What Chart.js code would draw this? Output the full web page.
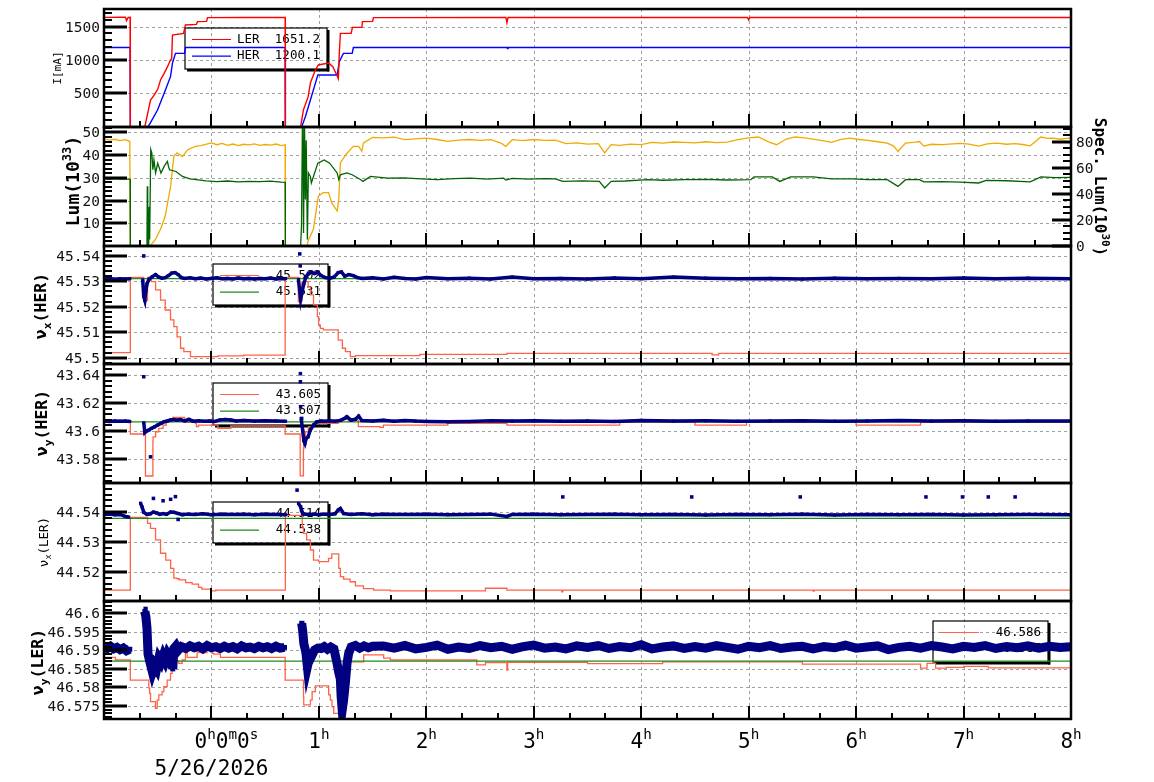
<!DOCTYPE html>
<html>
<head>
<meta charset="utf-8">
<title>Beam currents, luminosity and tunes</title>
<script src="https://cdn.jsdelivr.net/npm/chart.js@4.4.1/dist/chart.umd.min.js"></script>
<style>
  html, body { margin: 0; padding: 0; background: #fff; }
  #wrap { position: relative; width: 1154px; height: 782px; overflow: hidden; }
  #wrap canvas { position: absolute; left: 0; top: 0; }
</style>
</head>
<body>
<div id="wrap"></div>
<script>
// time axis: hours from 5/26/2026 0:00
const hourTicks = [0, 1, 2, 3, 4, 5, 6, 7, 8];
const hourLabels = ['0h0m0s', '1h', '2h', '3h', '4h', '5h', '6h', '7h', '8h'];
const dateLabel = '5/26/2026';

// ---- beam currents [mA]
const curTicks = [500, 1000, 1500];
const curNames = ['LER', 'HER'];
const curLegendVals = ['1651.2', '1200.1'];
const lerT = [-1.0, -0.80, -0.79, -0.775, -0.757, -0.755, -0.62, -0.60, -0.567, -0.53,
  -0.50, -0.474, -0.44, -0.409, -0.381, -0.37, -0.363, -0.26, -0.242, -0.14,
  -0.13, -0.045, -0.037, 0.30, 0.686, 0.688, 0.83, 0.856, 0.90, 0.921,
  0.967, 0.995, 1.09, 1.13, 1.17, 1.181, 1.19, 1.20, 1.30, 1.312,
  1.40, 1.405, 1.50, 1.507, 2.74, 2.75, 2.76, 4.99, 5.0, 5.01, 8.0];
const lerI = [1640, 1642, 1590, 1638, 1640, 0, 0, 150, 400, 480,
  560, 700, 800, 900, 1000, 1020, 1375, 1400, 1525, 1535,
  1575, 1580, 1636, 1638, 1638, 0, 0, 250, 450, 655,
  850, 925, 955, 900, 760, 720, 1100, 1400, 1400, 1490,
  1490, 1575, 1580, 1636, 1638, 1560, 1638, 1638, 1600, 1638, 1638];
const herT = [-1.0, -0.757, -0.755, -0.59, -0.567, -0.502, -0.44, -0.381, -0.363, -0.335,
  -0.25, -0.242, 0.686, 0.688, 0.84, 0.874, 0.921, 0.967, 0.99, 1.17,
  1.19, 1.228, 1.31, 1.321, 2.75, 2.755, 2.76, 8.0];
const herI = [1187, 1187, 0, 0, 60, 250, 500, 750, 950, 1100,
  1100, 1187, 1187, 0, 0, 150, 400, 650, 775, 775,
  975, 1100, 1100, 1187, 1187, 1170, 1187, 1187];

// ---- luminosity [1e33] and specific luminosity [1e30]
const lumTicks = [10, 20, 30, 40, 50];
const specTicks = [0, 20, 40, 60, 80];
const lumT = [-1.0, -0.95, -0.9, -0.85, -0.8, -0.76, -0.755, -0.57, -0.52, -0.474,
  -0.43, -0.38, -0.35, -0.32, -0.27, -0.22, -0.15, -0.10, 0.0, 0.05,
  0.1, 0.15, 0.2, 0.25, 0.3, 0.35, 0.4, 0.45, 0.5, 0.55,
  0.6, 0.65, 0.686, 0.688, 0.89, 0.90, 0.949, 0.995, 1.04, 1.09,
  1.12, 1.17, 1.185, 1.20, 1.25, 1.32, 1.37, 1.40, 1.415, 1.50,
  1.6, 1.7, 1.8, 1.9, 2.0, 2.1, 2.2, 2.3, 2.4, 2.5,
  2.6, 2.7, 2.74, 2.8, 2.9, 3.0, 3.1, 3.2, 3.3, 3.4,
  3.5, 3.6, 3.66, 3.72, 3.8, 3.9, 4.0, 4.1, 4.2, 4.3,
  4.4, 4.5, 4.6, 4.7, 4.8, 4.9, 5.0, 5.09, 5.18, 5.26,
  5.35, 5.43, 5.52, 5.6, 5.7, 5.77, 5.85, 5.94, 6.03, 6.11,
  6.2, 6.29, 6.35, 6.39, 6.43, 6.46, 6.55, 6.59, 6.63, 6.7,
  6.8, 6.9, 6.97, 7.05, 7.14, 7.22, 7.31, 7.4, 7.48, 7.55,
  7.62, 7.67, 7.72, 7.78, 7.83, 7.9, 7.98, 8.0];
const lumV = [47.2, 46.6, 47.0, 46.4, 46.8, 46.0, 0, 0, 3.0, 7.4,
  13.2, 26.3, 39.5, 41.0, 39.4, 42.4, 43.9, 44.2, 45.4, 44.6,
  45.2, 44.3, 44.9, 44.2, 44.8, 44.5, 45.0, 44.3, 44.7, 44.4,
  44.9, 44.2, 44.6, 0, 0, 2.3, 7.4, 22.0, 23.5, 23.5,
  19.0, 15.4, 20.5, 36.6, 40.2, 43.9, 43.9, 41.7, 45.4, 47.8,
  47.6, 47.9, 46.8, 47.2, 47.5, 46.9, 46.1, 46.6, 46.9, 46.5,
  46.8, 45.2, 43.9, 46.8, 46.4, 46.9, 46.5, 46.6, 45.1, 45.4,
  44.9, 45.1, 41.0, 44.6, 44.3, 44.9, 44.6, 45.6, 45.3, 45.8,
  45.6, 45.4, 45.9, 45.5, 45.7, 46.8, 47.6, 48.0, 46.0, 44.6,
  47.1, 48.0, 47.6, 47.1, 46.3, 45.6, 46.8, 47.5, 46.9, 46.5,
  45.9, 45.3, 44.0, 41.6, 43.8, 45.3, 45.7, 46.0, 44.0, 44.8,
  44.6, 45.0, 45.2, 44.9, 44.0, 45.0, 45.3, 44.8, 45.1, 44.7,
  44.1, 46.0, 48.0, 47.4, 47.5, 47.0, 47.5, 47.3];
const specT = [-1.0, -0.95, -0.9, -0.85, -0.8, -0.757, -0.755, -0.60, -0.597, -0.593,
  -0.588, -0.584, -0.58, -0.575, -0.565, -0.555, -0.545, -0.535, -0.52, -0.50,
  -0.47, -0.44, -0.41, -0.40, -0.39, -0.33, -0.27, -0.20, -0.14, -0.05,
  0.05, 0.15, 0.25, 0.35, 0.45, 0.55, 0.65, 0.686, 0.688, 0.83,
  0.838, 0.847, 0.852, 0.857, 0.866, 0.874, 0.882, 0.893, 0.902, 0.921,
  0.93, 0.96, 0.99, 1.05, 1.10, 1.17, 1.185, 1.20, 1.26, 1.31,
  1.39, 1.41, 1.48, 1.64, 1.79, 1.95, 2.10, 2.26, 2.41, 2.57,
  2.72, 2.74, 2.8, 2.95, 3.1, 3.2, 3.27, 3.45, 3.61, 3.66,
  3.72, 3.85, 4.06, 4.2, 4.4, 4.6, 4.8, 5.02, 5.05, 5.22,
  5.29, 5.39, 5.6, 5.77, 5.96, 6.11, 6.29, 6.39, 6.46, 6.59,
  6.63, 6.8, 6.97, 7.14, 7.21, 7.4, 7.62, 7.72, 7.85, 8.0];
const specV = [51.4, 51.0, 51.6, 51.2, 51.5, 51.0, 0, 0, 45.7, 0,
  22.9, 0, 30, 5, 74, 71.4, 58.4, 66, 56, 63.5,
  56, 61, 64.8, 61, 58.4, 57.1, 53.3, 51.5, 50.8, 49.9,
  49.4, 49.8, 49.2, 49.6, 49.3, 49.7, 48.9, 48.8, 0, 0,
  15, 95, 84, 10, 95, 35.6, 81, 5, 56, 53.3,
  48.3, 56, 63.5, 66, 63.5, 56, 50.8, 54.6, 56, 54.6,
  50.8, 49.5, 53.3, 52.0, 52.2, 51.4, 50.8, 51.6, 52.0, 51.2,
  52.0, 50.5, 51.8, 51.2, 51.6, 51.4, 49.5, 49.9, 49.5, 44.5,
  49.5, 49.8, 50.8, 50.4, 50.8, 51.1, 50.6, 50.8, 52.9, 52.9,
  49.5, 52.9, 52.9, 51.4, 51.4, 50.8, 50.8, 45.7, 50.8, 50.8,
  49.1, 49.4, 48.9, 48.3, 50.3, 50.0, 49.1, 52.9, 52.4, 52.6];

// ---- HER horizontal tune
const nuxHerTicks = [45.5, 45.51, 45.52, 45.53, 45.54];
const nuxHerLegendVals = ['45.502', '45.531'];
const nuxHerSetT = [-1.0, -0.755, -0.753, -0.63, -0.628, -0.595, -0.593, -0.56, -0.52, -0.474,
  -0.43, -0.381, -0.35, -0.32, -0.288, -0.257, -0.195, -0.133, 0.06, 0.07,
  0.30, 0.31, 0.686, 0.688, 0.809, 0.81, 0.84, 0.845, 0.86, 0.90,
  0.92, 0.95, 0.986, 0.998, 1.014, 1.042, 1.088, 1.18, 1.219, 1.247,
  1.293, 1.34, 1.55, 1.94, 1.95, 2.75, 2.76, 4.66, 4.67, 4.72, 4.73, 8.0];
const nuxHerSetV = [45.502, 45.502, 45.5315, 45.5315, 45.5224, 45.5224, 45.5315, 45.5315, 45.5298, 45.5266,
  45.5226, 45.5187, 45.5148, 45.5122, 45.5082, 45.5037, 45.5024, 45.5004, 45.5004, 45.5007,
  45.5007, 45.501, 45.501, 45.5315, 45.5315, 45.522, 45.522, 45.5292, 45.5298, 45.5298,
  45.5278, 45.5246, 45.5207, 45.5161, 45.5128, 45.5115, 45.5109, 45.5109, 45.5069, 45.5037,
  45.5024, 45.5004, 45.5008, 45.5008, 45.5013, 45.5013, 45.5017, 45.5017, 45.5011, 45.5011, 45.5017, 45.5017];
const nuxHerRefT = [-1.0, 8.0];
const nuxHerRefV = [45.531, 45.531];
const nuxHerMeasT = [-1.0, -0.95, -0.9, -0.85, -0.8, -0.76, -0.7,
  -0.64, -0.63, -0.62, -0.61, -0.60, -0.58, -0.55, -0.52, -0.49, -0.46,
  -0.43, -0.40, -0.37, -0.34, -0.31, -0.28, -0.25, -0.2, -0.15, -0.1,
  -0.05, 0.0, 0.05, 0.1, 0.15, 0.2, 0.25, 0.3, 0.35, 0.4,
  0.45, 0.5, 0.55, 0.6, 0.65, 0.69, 0.75,
  0.81, 0.83, 0.845, 0.86, 0.88, 0.90, 0.93, 0.96, 0.99, 1.02,
  1.06, 1.1, 1.14, 1.18, 1.21, 1.24, 1.28, 1.32, 1.36, 1.4,
  1.5, 1.6, 1.7, 1.8, 1.9, 2.0, 2.2, 2.4, 2.6, 2.8,
  3.0, 3.25, 3.5, 3.75, 4.0, 4.3, 4.6, 4.9, 5.2, 5.5,
  5.8, 6.1, 6.4, 6.7, 7.0, 7.3, 7.6, 8.0];
const nuxHerMeasV = [45.5309, 45.5311, 45.5308, 45.5310, 45.5309, 45.5310, null,
  45.5305, 45.5240, 45.5225, 45.5262, 45.5290, 45.5308, 45.5318, 45.5326, 45.5316, 45.5312,
  45.5314, 45.5322, 45.5332, 45.5334, 45.5326, 45.5314, 45.5311, 45.5313, 45.5310, 45.5312,
  45.5309, 45.5311, 45.5313, 45.5310, 45.5311, 45.5309, 45.5312, 45.5310, 45.5311, 45.5309,
  45.5311, 45.5310, 45.5312, 45.5309, 45.5311, 45.5310, null,
  45.5306, 45.5228, 45.5262, 45.5290, 45.5318, 45.5328, 45.5336, 45.5330, 45.5335, 45.5322,
  45.5314, 45.5312, 45.5316, 45.5334, 45.5336, 45.5320, 45.5326, 45.5322, 45.5314, 45.5311,
  45.5313, 45.5309, 45.5315, 45.5311, 45.5309, 45.5314, 45.5310, 45.5312, 45.5309, 45.5316,
  45.5310, 45.5311, 45.5309, 45.5313, 45.5310, 45.5316, 45.5312, 45.5310, 45.5311, 45.5309,
  45.5312, 45.5310, 45.5311, 45.5310, 45.5313, 45.5310, 45.5312, 45.5310];
const nuxHerOutT = [-0.63, 0.822, 0.826];
const nuxHerOutV = [45.5399, 45.5407, 45.536];

// ---- HER vertical tune
const nuyHerTicks = [43.58, 43.6, 43.62, 43.64];
const nuyHerLegendVals = ['43.605', '43.607'];
const nuyHerSetT = [-1.0, -0.755, -0.753, -0.614, -0.612, -0.545, -0.543, -0.52, -0.49, -0.45,
  -0.42, -0.36, -0.31, -0.25, -0.24, -0.21, -0.15, -0.14, -0.12, -0.07,
  0.06, 0.08, 0.18, 0.20, 0.686, 0.688, 0.826, 0.828, 0.856, 0.858,
  0.874, 0.902, 0.94, 0.967, 0.995, 1.18, 1.22, 1.247, 1.274, 1.29,
  1.34, 1.367, 1.386, 1.57, 1.6, 2.2, 2.75, 3.2, 3.8, 3.82,
  4.5, 4.52, 4.98, 5.0, 6.0, 6.02, 6.6, 6.62, 8.0];
const nuyHerSetV = [43.6064, 43.6064, 43.5979, 43.5979, 43.5679, 43.5679, 43.5924, 43.5959, 43.5995, 43.6019,
  43.6043, 43.6067, 43.6098, 43.6098, 43.6079, 43.6062, 43.6062, 43.6055, 43.6031, 43.6043,
  43.6043, 43.6019, 43.6019, 43.6036, 43.6036, 43.5979, 43.5979, 43.568, 43.568, 43.5864,
  43.5936, 43.5995, 43.6031, 43.605, 43.6055, 43.6055, 43.6067, 43.609, 43.6085, 43.6072,
  43.6079, 43.6076, 43.6031, 43.6031, 43.6026, 43.6043, 43.6055, 43.6043, 43.6043, 43.6062,
  43.6062, 43.6043, 43.6043, 43.6062, 43.6062, 43.6043, 43.6043, 43.6062, 43.6062];
const nuyHerRefT = [-1.0, 8.0];
const nuyHerRefV = [43.6066, 43.6066];
const nuyHerMeasT = [-1.0, -0.95, -0.9, -0.85, -0.8, -0.76, -0.7,
  -0.63, -0.62, -0.61, -0.60, -0.58, -0.56, -0.53, -0.50, -0.47, -0.44,
  -0.41, -0.38, -0.35, -0.32, -0.29, -0.25, -0.21, -0.17, -0.12, -0.07,
  -0.02, 0.03, 0.08, 0.13, 0.18, 0.23, 0.3, 0.4, 0.5, 0.6,
  0.69, 0.76,
  0.835, 0.85, 0.86, 0.87, 0.88, 0.90, 0.92, 0.95, 0.98, 1.02,
  1.06, 1.1, 1.15, 1.2, 1.24, 1.26, 1.3, 1.34, 1.37, 1.4,
  1.5, 1.6, 1.7, 1.8, 1.9, 2.0, 2.2, 2.4, 2.6, 2.8,
  3.0, 3.25, 3.5, 3.75, 4.0, 4.3, 4.6, 4.9, 5.2, 5.5,
  5.8, 6.1, 6.4, 6.7, 7.0, 7.3, 7.6, 8.0];
const nuyHerMeasV = [43.6071, 43.6069, 43.6072, 43.6070, 43.6071, 43.6069, null,
  43.6060, 43.5990, 43.5998, 43.6002, 43.6008, 43.6019, 43.6030, 43.6043, 43.6055, 43.6067,
  43.6072, 43.6080, 43.6083, 43.6078, 43.6082, 43.6073, 43.6084, 43.6071, 43.6074, 43.6070,
  43.6072, 43.6069, 43.6080, 43.6083, 43.6079, 43.6072, 43.6076, 43.6071, 43.6074, 43.6072,
  43.6070, null,
  43.6090, 43.6000, 43.5930, 43.5912, 43.5945, 43.5959, 43.6007, 43.6043, 43.6066, 43.6072,
  43.6070, 43.6074, 43.6071, 43.6076, 43.6090, 43.6102, 43.6078, 43.6084, 43.6107, 43.6075,
  43.6072, 43.6077, 43.6070, 43.6075, 43.6071, 43.6069, 43.6066, 43.6068, 43.6073, 43.6071,
  43.6074, 43.6070, 43.6072, 43.6069, 43.6076, 43.6071, 43.6073, 43.6070, 43.6072, 43.6074,
  43.6070, 43.6072, 43.6075, 43.6071, 43.6073, 43.6070, 43.6072, 43.6071];
const nuyHerOutT = [-0.63, -0.567, 0.828, 0.828, 0.83, 0.84];
const nuyHerOutV = [43.6388, 43.5816, 43.641, 43.6352, 43.6174, 43.609];

// ---- LER horizontal tune
const nuxLerTicks = [44.52, 44.53, 44.54];
const nuxLerLegendVals = ['44.514', '44.538'];
const nuxLerSetT = [-1.0, -0.755, -0.753, -0.595, -0.567, -0.52, -0.474, -0.425, -0.38, -0.35,
  -0.32, -0.30, -0.24, -0.18, -0.12, -0.09, 0.0, 0.04, 0.09, 0.688,
  0.69, 0.845, 0.856, 0.886, 0.921, 0.95, 0.998, 1.09, 1.12, 1.15,
  1.185, 1.2, 1.23, 1.29, 1.34, 1.415, 1.51, 1.665, 2.0, 2.55,
  2.75, 2.88, 3.26, 3.27, 3.3, 5.6, 5.61, 5.65, 8.0];
const nuxLerSetV = [44.5138, 44.5138, 44.5383, 44.5383, 44.5363, 44.5346, 44.5307, 44.5262, 44.5239, 44.5211,
  44.5178, 44.5176, 44.5172, 44.5163, 44.5158, 44.5147, 44.5141, 44.5135, 44.5138, 44.5138,
  44.539, 44.539, 44.5351, 44.5329, 44.5307, 44.5273, 44.5239, 44.5234, 44.5245, 44.526,
  44.526, 44.5211, 44.5183, 44.5175, 44.5166, 44.5152, 44.5143, 44.5138, 44.5135, 44.5135,
  44.5144, 44.5138, 44.5138, 44.5132, 44.5138, 44.5138, 44.5134, 44.5138, 44.5138];
const nuxLerRefT = [-1.0, 8.0];
const nuxLerRefV = [44.538, 44.538];
const nuxLerMeasT = [-1.0, -0.95, -0.9, -0.85, -0.8, -0.77, -0.71,
  -0.66, -0.645, -0.63, -0.6, -0.57, -0.54, -0.51, -0.48, -0.45, -0.42,
  -0.38, -0.35, -0.31, -0.27, -0.22, -0.15, -0.08, 0.0, 0.1, 0.2,
  0.3, 0.4, 0.5, 0.6, 0.69, 0.75,
  0.81, 0.83, 0.85, 0.9, 0.95, 1.0, 1.05, 1.1, 1.15, 1.18,
  1.2, 1.23, 1.3, 1.4, 1.5, 1.6, 1.8, 2.0, 2.2, 2.4,
  2.6, 2.75, 2.8, 3.0, 3.25, 3.5, 3.75, 4.0, 4.3, 4.6,
  4.9, 5.2, 5.5, 5.8, 6.1, 6.4, 6.7, 7.0, 7.3, 7.6, 8.0];
const nuxLerMeasV = [44.5393, 44.5394, 44.5392, 44.5393, 44.5386, 44.5384, null,
  44.5431, 44.5418, 44.5400, 44.5393, 44.5395, 44.5401, 44.5398, 44.5393, 44.5396, 44.5393,
  44.5401, 44.5400, 44.5396, 44.5392, 44.5394, 44.5393, 44.5395, 44.5392, 44.5394, 44.5393,
  44.5394, 44.5392, 44.5394, 44.5393, 44.5392, null,
  44.5430, 44.5419, 44.5395, 44.5393, 44.5394, 44.5392, 44.5394, 44.5393, 44.5395, 44.5408,
  44.5413, 44.5396, 44.5393, 44.5395, 44.5392, 44.5394, 44.5393, 44.5394, 44.5392, 44.5393,
  44.5394, 44.5386, 44.5393, 44.5394, 44.5392, 44.5393, 44.5394, 44.5392, 44.5393, 44.5391,
  44.5393, 44.5392, 44.5394, 44.5391, 44.5393, 44.5392, 44.5393, 44.5391, 44.5392, 44.5393, 44.5392];
const nuxLerOutT = [-0.54, -0.45, -0.38, -0.335, -0.31, 0.797, 3.27, 4.47, 5.48, 6.65, 6.99, 7.23, 7.48];
const nuxLerOutV = [44.5447, 44.5439, 44.5444, 44.5453, 44.5376, 44.5475, 44.5452, 44.5452, 44.5452, 44.5452, 44.5452, 44.5452, 44.5452];

// ---- LER vertical tune
const nuyLerTicks = [46.575, 46.58, 46.585, 46.59, 46.595, 46.6];
const nuyLerLegendVals = ['46.586', '46.587'];
const nuyLerSetT = [-1.0, -0.893, -0.891, -0.755, -0.753, -0.583, -0.575, -0.567, -0.552, -0.521,
  -0.505, -0.49, -0.459, -0.443, -0.412, -0.381, -0.366, -0.35, -0.335, -0.319,
  -0.304, -0.273, -0.242, -0.226, -0.211, -0.133, -0.118, -0.087, -0.04, -0.025,
  0.006, 0.022, 0.084, 0.099, 0.686, 0.688, 0.857, 0.859, 0.874, 0.921,
  0.937, 0.967, 0.998, 1.091, 1.107, 1.122, 1.138, 1.153, 1.184, 1.194,
  1.231, 1.247, 1.262, 1.277, 1.309, 1.417, 1.433, 1.603, 1.619, 1.665,
  1.681, 2.47, 2.472, 2.55, 2.552, 2.75, 2.757, 2.77, 3.5, 3.52,
  4.2, 4.22, 5.5, 5.52, 6.6, 6.62, 6.66, 6.74, 6.84, 7.0,
  7.23, 7.49, 8.0];
const nuyLerSetV = [46.5881, 46.5881, 46.5874, 46.5874, 46.582, 46.582, 46.5798, 46.5784, 46.5762, 46.5762,
  46.5744, 46.5766, 46.578, 46.5789, 46.5802, 46.582, 46.5838, 46.5874, 46.5899, 46.5883,
  46.5872, 46.5865, 46.5874, 46.5898, 46.5881, 46.5881, 46.5901, 46.5894, 46.5894, 46.5901,
  46.5901, 46.5892, 46.589, 46.5881, 46.5881, 46.582, 46.582, 46.5775, 46.5753, 46.5753,
  46.5766, 46.5789, 46.5804, 46.5804, 46.578, 46.5766, 46.5748, 46.573, 46.573, 46.575,
  46.575, 46.5789, 46.582, 46.586, 46.5869, 46.5869, 46.5888, 46.5888, 46.5879, 46.5879,
  46.5874, 46.5874, 46.5861, 46.5861, 46.5867, 46.5867, 46.5847, 46.5868, 46.5868, 46.5864,
  46.5864, 46.5869, 46.5869, 46.5863, 46.5863, 46.5852, 46.5852, 46.5865, 46.5852, 46.5854,
  46.5857, 46.5853, 46.5853];
const nuyLerRefT = [-1.0, 8.0];
const nuyLerRefV = [46.5871, 46.5871];
const nuyLerMeasT = [-1.0, -0.97, -0.94, -0.91, -0.88, -0.85, -0.82, -0.79, -0.76, -0.7,
  -0.62, -0.61, -0.60, -0.595, -0.59, -0.57, -0.55, -0.53, -0.51, -0.49,
  -0.47, -0.45, -0.43, -0.41, -0.39, -0.37, -0.36, -0.35, -0.33, -0.31,
  -0.28, -0.24, -0.20, -0.16, -0.12, -0.08, -0.04, 0.0, 0.04, 0.08,
  0.12, 0.16, 0.2, 0.24, 0.28, 0.32, 0.36, 0.4, 0.44, 0.48,
  0.52, 0.56, 0.6, 0.64, 0.68, 0.76,
  0.84, 0.85, 0.86, 0.874, 0.88, 0.893, 0.90, 0.93, 0.96, 0.99,
  1.02, 1.05, 1.08, 1.11, 1.14, 1.169, 1.185, 1.2, 1.207, 1.217,
  1.23, 1.246, 1.262, 1.277, 1.30, 1.34, 1.38, 1.42, 1.46, 1.50,
  1.6, 1.7, 1.8, 1.9, 2.0, 2.1, 2.2, 2.3, 2.4, 2.5,
  2.6, 2.7, 2.8, 2.9, 3.0, 3.1, 3.2, 3.3, 3.4, 3.5,
  3.6, 3.7, 3.8, 3.9, 4.0, 4.1, 4.2, 4.3, 4.4, 4.5,
  4.6, 4.7, 4.8, 4.9, 5.0, 5.1, 5.2, 5.3, 5.4, 5.5,
  5.6, 5.7, 5.8, 5.9, 6.0, 6.1, 6.2, 6.3, 6.4, 6.5,
  6.6, 6.7, 6.8, 6.9, 7.0, 7.1, 7.2, 7.3, 7.4, 7.5,
  7.6, 7.7, 7.8, 7.9, 8.0];
const nuyLerMeasV = [46.5910, 46.5905, 46.5911, 46.5904, 46.5908, 46.5902, 46.5906, 46.5899, 46.5903, null,
  46.6005, 46.5990, 46.5960, 46.5925, 46.5890, 46.5865, 46.5842, 46.5860, 46.5850, 46.5878,
  46.5868, 46.5885, 46.5872, 46.5890, 46.5880, 46.5870, 46.5850, 46.5905, 46.5912, 46.5900,
  46.5910, 46.5905, 46.5912, 46.5907, 46.5911, 46.5904, 46.5913, 46.5907, 46.5910, 46.5905,
  46.5911, 46.5906, 46.5910, 46.5904, 46.5912, 46.5907, 46.5909, 46.5905, 46.5911, 46.5907,
  46.5910, 46.5905, 46.5911, 46.5906, 46.5908, null,
  46.5973, 46.5950, 46.5918, 46.5901, 46.5892, 46.5856, 46.5865, 46.5883, 46.5901, 46.5906,
  46.5905, 46.5910, 46.5903, 46.5909, 46.5904, 46.5865, 46.5840, 46.5822, 46.5775, 46.5739,
  46.5766, 46.5811, 46.5865, 46.5892, 46.5909, 46.5913, 46.5906, 46.5912, 46.5907, 46.5911,
  46.5912, 46.5906, 46.5913, 46.5904, 46.5908, 46.5914, 46.5903, 46.5909, 46.5905, 46.5913,
  46.5907, 46.5911, 46.5903, 46.5910, 46.5914, 46.5906, 46.5909, 46.5904, 46.5912, 46.5908,
  46.5913, 46.5905, 46.5910, 46.5907, 46.5915, 46.5904, 46.5909, 46.5912, 46.5905, 46.5910,
  46.5906, 46.5913, 46.5908, 46.5903, 46.5911, 46.5907, 46.5913, 46.5905, 46.5909, 46.5911,
  46.5904, 46.5910, 46.5907, 46.5914, 46.5906, 46.5909, 46.5912, 46.5902, 46.5908, 46.5911,
  46.5906, 46.5913, 46.5909, 46.5904, 46.5911, 46.5908, 46.5913, 46.5905, 46.5910, 46.5907,
  46.5912, 46.5906, 46.5911, 46.5908, 46.5910];
const nuyLerOutT = [-0.613, -0.608, 0.845, 0.85, 1.21, 1.22];
const nuyLerOutV = [46.6012, 46.5995, 46.5973, 46.5950, 46.5760, 46.5735];

// ---------------------------------------------------------------------------
const NAVY = '#000080', TOMATO = '#ff6347', GREEN = '#1c8c1c';
const FONT = '"DejaVu Sans Mono", "Liberation Mono", monospace';
const edges = [9, 127, 246, 364, 483, 601, 719];
const plotLeft = 104, plotRight = 1071, W = 1154, H = 782;

function xy(T, V) { return T.map((t, i) => ({ x: t, y: V[i] })); }

function lineSet(T, V, color, width, extra) {
  return Object.assign({
    data: xy(T, V), showLine: true, borderColor: color, backgroundColor: color,
    borderWidth: width, pointRadius: 0, tension: 0, spanGaps: false, clip: 0
  }, extra || {});
}
function bandSet(T, V, width, r) {
  return lineSet(T, V, NAVY, width, { pointRadius: r, pointStyle: 'rect', pointBorderWidth: 0, pointBackgroundColor: NAVY });
}
function dotSet(T, V, r) {
  return { data: xy(T, V), showLine: false, pointRadius: r, pointStyle: 'rect',
    pointBorderWidth: 0, pointBackgroundColor: NAVY, backgroundColor: NAVY, clip: 0 };
}

// text with superscript (1) / subscript (2) runs
function richDraw(ctx, parts, cx, cy, size, bold, rot) {
  const w = bold ? 'bold ' : '';
  const small = size * 0.68;
  const fontOf = k => w + (k ? small : size) + 'px ' + FONT;
  let total = 0;
  const widths = parts.map(([s, k]) => { ctx.font = fontOf(k); const m = ctx.measureText(s).width; total += m; return m; });
  ctx.save();
  ctx.translate(cx, cy);
  if (rot) ctx.rotate(rot);
  ctx.textAlign = 'left';
  ctx.textBaseline = 'alphabetic';
  ctx.fillStyle = '#000';
  let x = -total / 2;
  const base = size * 0.36;
  parts.forEach(([s, k], i) => {
    ctx.font = fontOf(k);
    const dy = k === 1 ? -size * 0.45 : (k === 2 ? size * 0.28 : 0);
    ctx.fillText(s, x, base + dy);
    x += widths[i];
  });
  ctx.restore();
}

function hourParts(label) {
  return label.match(/\d+|[a-z]+/g).map(s => [s, /\d/.test(s) ? 0 : 1]);
}

function fmtTick(v) { return String(parseFloat(v.toFixed(4))); }

function drawYTicks(ctx, a, scale, ticks, major, minor, side, labelEdge) {
  const x0 = side === 'left' ? a.left : a.right;
  const dir = side === 'left' ? 1 : -1;
  ctx.strokeStyle = '#000';
  // minor ticks
  ctx.lineWidth = 2;
  const i0 = Math.ceil(scale.min / minor - 1e-6), i1 = Math.floor(scale.max / minor + 1e-6);
  for (let i = i0; i <= i1; i++) {
    const v = i * minor;
    const r = v / major;
    if (Math.abs(r - Math.round(r)) < 1e-6) continue;
    const py = Math.round(scale.getPixelForValue(v));
    ctx.beginPath(); ctx.moveTo(x0, py); ctx.lineTo(x0 + dir * 8, py); ctx.stroke();
  }
  // major ticks and labels
  ctx.lineWidth = 3;
  ctx.font = '14.5px ' + FONT;
  ctx.fillStyle = '#111';
  ctx.textBaseline = 'middle';
  ticks.forEach(v => {
    const py = Math.round(scale.getPixelForValue(v));
    ctx.beginPath(); ctx.moveTo(x0, py); ctx.lineTo(x0 + dir * (side === 'left' ? 23 : 19), py); ctx.stroke();
    if (py > a.top + 1 && (py < a.bottom - 3 || labelEdge)) {
      if (side === 'left') { ctx.textAlign = 'right'; ctx.fillText(fmtTick(v), a.left - 4, py + 1); }
      else { ctx.textAlign = 'left'; ctx.fillText(fmtTick(v), a.right + 5, py + 1); }
    }
  });
}

function drawLegend(ctx, lg) {
  ctx.save();
  ctx.fillStyle = '#000';
  ctx.fillRect(lg.x + 2, lg.y + lg.h, lg.w, 2.5);
  ctx.fillRect(lg.x + lg.w, lg.y + 2, 2.5, lg.h + 0.5);
  ctx.strokeStyle = '#000';
  ctx.lineWidth = 1.2;
  ctx.strokeRect(lg.x, lg.y, lg.w, lg.h);
  ctx.font = '12.5px ' + FONT;
  ctx.textBaseline = 'middle';
  lg.rows.forEach((r, i) => {
    const y = lg.y + 11.5 + i * 16.6;
    ctx.strokeStyle = r.color;
    ctx.lineWidth = 1.2;
    ctx.beginPath(); ctx.moveTo(lg.x + 7, y); ctx.lineTo(lg.x + 46, y); ctx.stroke();
    ctx.fillStyle = '#000';
    if (r.name) { ctx.textAlign = 'left'; ctx.fillText(r.name, lg.x + 52, y); }
    ctx.textAlign = 'right';
    ctx.fillText(r.value, lg.x + lg.w - 7, y);
  });
  ctx.restore();
}

function panelPlugin(cfg, isLast) {
  return {
    id: 'panelDecor',
    beforeDatasetsDraw(chart) {
      const { ctx, chartArea: a, scales } = chart;
      ctx.save();
      ctx.strokeStyle = '#a0a0a0';
      ctx.lineWidth = 1;
      ctx.setLineDash([3, 3]);
      hourTicks.forEach(h => {
        if (h <= scales.x.min || h >= scales.x.max) return;
        const px = Math.round(scales.x.getPixelForValue(h)) + 0.5;
        ctx.beginPath(); ctx.moveTo(px, a.top); ctx.lineTo(px, a.bottom); ctx.stroke();
      });
      cfg.ticks.forEach(v => {
        const py = Math.round(scales.y.getPixelForValue(v)) + 0.5;
        if (py < a.top + 2 || py > a.bottom - 2) return;
        ctx.beginPath(); ctx.moveTo(a.left, py); ctx.lineTo(a.right, py); ctx.stroke();
      });
      ctx.restore();
      if (cfg.legend) drawLegend(ctx, cfg.legend);
    },
    afterDatasetsDraw(chart) {
      const { ctx, chartArea: a, scales } = chart;
      ctx.save();
      ctx.setLineDash([]);
      ctx.strokeStyle = '#000';
      ctx.lineWidth = 2.5;
      ctx.strokeRect(a.left, a.top, a.right - a.left, a.bottom - a.top);
      // time ticks every 20 minutes, pointing up from the bottom edge
      ctx.lineWidth = 2;
      for (let k = 1; k < 27; k++) {
        const t = scales.x.min + k / 3;
        const major = k % 3 === 0;
        const px = Math.round(scales.x.getPixelForValue(t));
        ctx.beginPath(); ctx.moveTo(px, a.bottom); ctx.lineTo(px, a.bottom - (major ? 13 : 6)); ctx.stroke();
      }
      drawYTicks(ctx, a, scales.y, cfg.ticks, cfg.major, cfg.minor, 'left', false);
      if (cfg.ticks2) drawYTicks(ctx, a, scales.y2, cfg.ticks2, cfg.major2, cfg.minor2, 'right', true);
      const t = cfg.title;
      richDraw(ctx, t.parts, t.x, t.y, t.size, t.bold, -Math.PI / 2);
      if (cfg.title2) {
        const t2 = cfg.title2;
        richDraw(ctx, t2.parts, t2.x, t2.y, t2.size, t2.bold, Math.PI / 2);
      }
      if (isLast) {
        hourTicks.forEach((h, i) => {
          const px = scales.x.getPixelForValue(h) + (i === 0 ? 15 : 0);
          richDraw(ctx, hourParts(hourLabels[i]), px, 740.5, 21, false, 0);
        });
        ctx.font = '21px ' + FONT;
        ctx.fillStyle = '#000';
        ctx.textAlign = 'center';
        ctx.textBaseline = 'alphabetic';
        ctx.fillText(dateLabel, scales.x.getPixelForValue(0), 775);
      }
      ctx.restore();
    }
  };
}

const panels = [
  {
    y: { min: -5, max: 1765 }, ticks: curTicks, major: 500, minor: 100,
    title: { parts: [['I[mA]', 0]], size: 11, bold: false, x: 57, y: 68 },
    legend: { x: 185, y: 28, w: 142, h: 41, rows: [
      { color: '#ff0000', name: curNames[0], value: curLegendVals[0] },
      { color: '#0000ff', name: curNames[1], value: curLegendVals[1] }] },
    datasets: [lineSet(lerT, lerI, '#ff0000', 1.4), lineSet(herT, herI, '#0000ff', 1.4)]
  },
  {
    y: { min: 0, max: 52.4 }, ticks: lumTicks, major: 10, minor: 2,
    y2: { min: 0, max: 91.2 }, ticks2: specTicks, major2: 20, minor2: 5,
    title: { parts: [['Lum(10', 0], ['33', 1], [')', 0]], size: 18, bold: true, x: 73, y: 181 },
    title2: { parts: [['Spec. Lum(10', 0], ['30', 1], [')', 0]], size: 16, bold: true, x: 1101, y: 187 },
    datasets: [lineSet(specT, specV, '#006400', 1.3, { yAxisID: 'y2' }), lineSet(lumT, lumV, '#f0aa00', 1.3)]
  },
  {
    y: { min: 45.49753, max: 45.5438 }, ticks: nuxHerTicks, major: 0.01, minor: 0.002,
    title: { parts: [['\u03bd', 0], ['x', 2], ['(HER)', 0]], size: 16.5, bold: true, x: 40, y: 306 },
    legend: { x: 213, y: 264, w: 115, h: 41, rows: [
      { color: TOMATO, value: nuxHerLegendVals[0] }, { color: GREEN, value: nuxHerLegendVals[1] }] },
    datasets: [dotSet(nuxHerOutT, nuxHerOutV, 2.5), bandSet(nuxHerMeasT, nuxHerMeasV, 3.5, 2.2),
      lineSet(nuxHerRefT, nuxHerRefV, GREEN, 1.3), lineSet(nuxHerSetT, nuxHerSetV, TOMATO, 1.3, { stepped: 'after' })]
  },
  {
    y: { min: 43.5629, max: 43.6479 }, ticks: nuyHerTicks, major: 0.02, minor: 0.004,
    title: { parts: [['\u03bd', 0], ['y', 2], ['(HER)', 0]], size: 16.5, bold: true, x: 41, y: 423 },
    legend: { x: 213, y: 383, w: 115, h: 42, rows: [
      { color: TOMATO, value: nuyHerLegendVals[0] }, { color: GREEN, value: nuyHerLegendVals[1] }] },
    datasets: [dotSet(nuyHerOutT, nuyHerOutV, 2.5), bandSet(nuyHerMeasT, nuyHerMeasV, 3.5, 2.2),
      lineSet(nuyHerRefT, nuyHerRefV, GREEN, 1.3), lineSet(nuyHerSetT, nuyHerSetV, TOMATO, 1.3, { stepped: 'after' })]
  },
  {
    y: { min: 44.5101, max: 44.5499 }, ticks: nuxLerTicks, major: 0.01, minor: 0.002,
    title: { parts: [['\u03bd', 0], ['x', 2], ['(LER)', 0]], size: 12.5, bold: false, x: 43, y: 542 },
    legend: { x: 213, y: 502, w: 115, h: 41, rows: [
      { color: TOMATO, value: nuxLerLegendVals[0] }, { color: GREEN, value: nuxLerLegendVals[1] }] },
    datasets: [dotSet(nuxLerOutT, nuxLerOutV, 2.5), bandSet(nuxLerMeasT, nuxLerMeasV, 3.5, 2.2),
      lineSet(nuxLerRefT, nuxLerRefV, GREEN, 1.3), lineSet(nuxLerSetT, nuxLerSetV, TOMATO, 1.3, { stepped: 'after' })]
  },
  {
    y: { min: 46.5715, max: 46.6033 }, ticks: nuyLerTicks, major: 0.005, minor: 0.001,
    title: { parts: [['\u03bd', 0], ['y', 2], ['(LER)', 0]], size: 16.5, bold: true, x: 37, y: 662 },
    legend: { x: 933, y: 621, w: 115, h: 41, rows: [
      { color: TOMATO, value: nuyLerLegendVals[0] }, { color: GREEN, value: nuyLerLegendVals[1] }] },
    datasets: [dotSet(nuyLerOutT, nuyLerOutV, 3), bandSet(nuyLerMeasT, nuyLerMeasV, 9, 3.5),
      lineSet(nuyLerRefT, nuyLerRefV, GREEN, 1.3), lineSet(nuyLerSetT, nuyLerSetV, TOMATO, 1.3, { stepped: 'after' })]
  }
];

const wrap = document.getElementById('wrap');
panels.forEach((cfg, i) => {
  const canvas = document.createElement('canvas');
  canvas.width = W;
  canvas.height = H;
  wrap.appendChild(canvas);
  const scales = {
    x: { type: 'linear', min: -1, max: 8, display: false },
    y: { type: 'linear', min: cfg.y.min, max: cfg.y.max, display: false }
  };
  if (cfg.y2) scales.y2 = { type: 'linear', position: 'right', min: cfg.y2.min, max: cfg.y2.max, display: false };
  new Chart(canvas, {
    type: 'scatter',
    data: { datasets: cfg.datasets },
    options: {
      responsive: false,
      animation: false,
      devicePixelRatio: 1,
      events: [],
      layout: { padding: { left: plotLeft, right: W - plotRight, top: edges[i], bottom: H - edges[i + 1] } },
      plugins: { legend: { display: false }, tooltip: { enabled: false } },
      scales: scales
    },
    plugins: [panelPlugin(cfg, i === panels.length - 1)]
  });
});
</script>
</body>
</html>
